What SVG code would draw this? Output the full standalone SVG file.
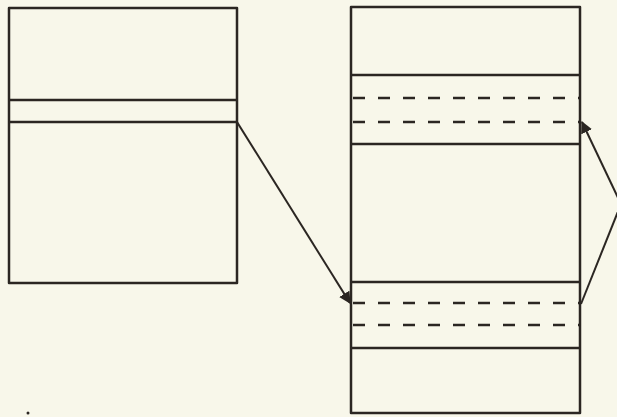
<svg xmlns="http://www.w3.org/2000/svg" width="617" height="417" viewBox="0 0 617 417">
<defs>
<style>
.box{fill:none;stroke:#2b2622;stroke-width:2.5;stroke-linejoin:round}
.ln{stroke:#2b2622;stroke-width:2.5;fill:none}
.dash{stroke:#2b2622;stroke-width:2.5;stroke-dasharray:12 13;fill:none}
.conn{stroke:#2b2622;stroke-width:2;fill:none}
</style>
<marker id="ah" viewBox="0 0 10 10" refX="9" refY="5" markerWidth="6" markerHeight="6" orient="auto" markerUnits="strokeWidth">
<path d="M0,0 L10,5 L0,10 z" fill="#2b2622"/>
</marker>
</defs>
<rect width="617" height="417" fill="#f8f7ea"/>
<g id="left-block">
<rect class="box" x="9" y="8" width="228" height="275"/>
<line class="ln" x1="9" y1="100" x2="237" y2="100"/>
<line class="ln" x1="9" y1="122" x2="237" y2="122"/>
</g>
<g id="right-block">
<rect class="box" x="351" y="7" width="229" height="406"/>
<line class="ln" x1="351" y1="75" x2="580" y2="75"/>
<line class="dash" x1="353" y1="98" x2="580" y2="98"/>
<line class="dash" x1="353" y1="122" x2="580" y2="122"/>
<line class="ln" x1="351" y1="144" x2="580" y2="144"/>
<line class="ln" x1="351" y1="282" x2="580" y2="282"/>
<line class="dash" x1="353" y1="303" x2="580" y2="303"/>
<line class="dash" x1="353" y1="325" x2="580" y2="325"/>
<line class="ln" x1="351" y1="348" x2="580" y2="348"/>
</g>
<g id="connectors">
<line class="conn" x1="237" y1="122" x2="350" y2="303" marker-end="url(#ah)"/>
<line class="conn" x1="621" y1="204" x2="582" y2="122" marker-end="url(#ah)"/>
<line class="conn" x1="621" y1="204" x2="581" y2="304"/>
</g>
<circle cx="28" cy="413" r="1.5" fill="#2b2622"/>
</svg>
